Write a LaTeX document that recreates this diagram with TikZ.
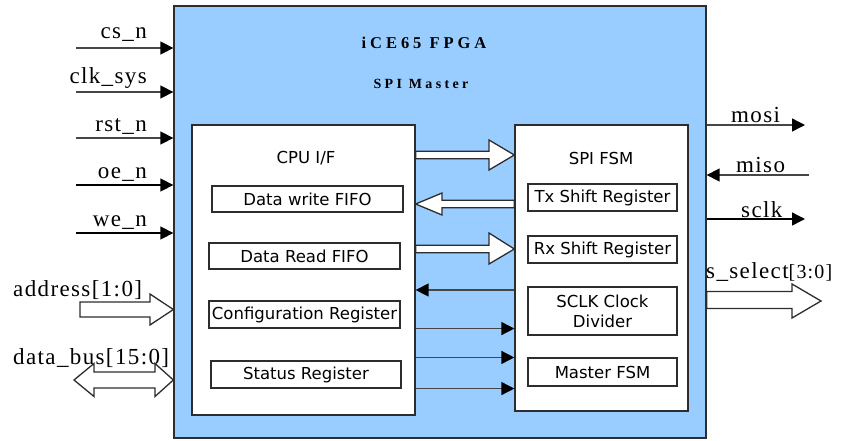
\documentclass[tikz,border=0pt]{standalone}
\usepackage{fontspec}
\setmainfont{Liberation Serif}
\newfontfamily\sigfont[LetterSpace=6]{Liberation Serif}
\newfontfamily\titlefont[LetterSpace=24]{Liberation Serif}
\newfontfamily\boxfont{DejaVu Sans}
\usetikzlibrary{arrows.meta}
\definecolor{fpgablue}{RGB}{153,204,255}
\definecolor{edge}{RGB}{45,45,45}
\definecolor{wire}{RGB}{70,70,70}
\begin{document}
\begin{tikzpicture}[x=1pt,y=-1pt,
  bigbox/.style={draw=edge, line width=1.3pt, fill=white, inner sep=0pt},
  subbox/.style={draw=edge, line width=1.1pt, fill=white, inner sep=0pt, align=center,
     font=\boxfont\fontsize{16.5}{20}\selectfont},
  boxtitle/.style={inner sep=0pt, font=\boxfont\fontsize{16.5}{20}\selectfont},
  sig/.style={draw=wire, line width=1.4pt, -{Triangle[length=13pt,width=13pt,color=black]}},
  lbl/.style={inner sep=0pt, font=\sigfont\fontsize{23}{26}\selectfont},
  hollow/.style={draw=edge, line width=1.3pt, fill=white, line join=miter},
  title/.style={inner sep=0pt}]
\useasboundingbox (0,0) rectangle (852,440);

% FPGA block
\node[draw=edge, line width=1.3pt, fill=fpgablue, minimum width=532, minimum height=432, inner sep=0pt] (fpga) at (440,222) {};
\node[title, font=\titlefont\bfseries\fontsize{16.5}{19}\selectfont] (t1) at (424,43) {iCE65 FPGA};
\node[title, font=\titlefont\bfseries\fontsize{14}{17}\selectfont] (t2) at (421,84) {SPI Master};

% CPU I/F
\node[bigbox, minimum width=223, minimum height=290] (cpu) at (303.5,270) {};
\node[boxtitle] (cputxt) at (306,158) {CPU I/F};
\node[subbox, minimum width=191, minimum height=26] (dwf) at (307.5,199) {Data write FIFO};
\node[subbox, minimum width=191, minimum height=26] (drf) at (304.5,256) {Data Read FIFO};
\node[subbox, minimum width=191, minimum height=27] (cfg) at (304.5,314.5) {Configuration Register};
\node[subbox, minimum width=190, minimum height=27] (stat) at (306,374.5) {Status Register};

% SPI FSM
\node[bigbox, minimum width=173, minimum height=286] (spi) at (601.5,268) {};
\node[boxtitle] (spitxt) at (601,158) {SPI FSM};
\node[subbox, minimum width=149, minimum height=27] (tx) at (602.5,197.5) {Tx Shift Register};
\node[subbox, minimum width=149, minimum height=27] (rx) at (602.5,249.5) {Rx Shift Register};
\node[subbox, minimum width=149, minimum height=48] (sclkdiv) at (602.5,311) {SCLK Clock\\Divider};
\node[subbox, minimum width=149, minimum height=28] (mfsm) at (602.5,372) {Master FSM};

% hollow bus arrows between CPU I/F and SPI FSM
\draw[hollow] (cpu.east |- 0,151.3) -- (489,151.3) -- (489,140) -- (spi.west |- 0,155)
  -- (489,170) -- (489,158.7) -- (cpu.east |- 0,158.7) -- cycle;
\draw[hollow] (spi.west |- 0,200.2) -- (442,200.2) -- (442,193) -- (cpu.east |- 0,204)
  -- (442,215) -- (442,207.8) -- (spi.west |- 0,207.8) -- cycle;
\draw[hollow] (cpu.east |- 0,245.3) -- (489,245.3) -- (489,233) -- (spi.west |- 0,249)
  -- (489,264) -- (489,252.7) -- (cpu.east |- 0,252.7) -- cycle;

% single-line arrows between CPU I/F and SPI FSM
\draw[sig] (spi.west |- 0,290) -- (cpu.east |- 0,290);
\draw[sig] (cpu.east |- cfg.south) -- (spi.west |- cfg.south);
\draw[sig] (cpu.east |- mfsm.north) -- (spi.west |- mfsm.north);
\draw[sig] (cpu.east |- stat.south) -- (spi.west |- stat.south);

% left inputs
\coordinate (csA) at (76,48);
\coordinate (clkA) at (76,92);
\coordinate (rstA) at (76,138);
\coordinate (oeA) at (76,185);
\coordinate (weA) at (76,233);
\draw[sig] (csA) -- (csA -| fpga.west);
\draw[sig] (clkA) -- (clkA -| fpga.west);
\draw[sig] (rstA) -- (rstA -| fpga.west);
\draw[sig, draw=black] (oeA) -- (oeA -| fpga.west);
\draw[sig, draw=black] (weA) -- (weA -| fpga.west);
\node[lbl, anchor=base east] (csL) at (147,38) {cs\_n};
\node[lbl, anchor=base east] (clkL) at (147,83) {clk\_sys};
\node[lbl, anchor=base east] (rstL) at (147,131) {rst\_n};
\node[lbl, anchor=base east] (oeL) at (147,178) {oe\_n};
\node[lbl, anchor=base east] (weL) at (147,226) {we\_n};

% address bus
\node[lbl, anchor=base west] (adrL) at (13,296) {address[1:0]};
\draw[hollow] (80,302) -- (150,302) -- (150,294) -- (fpga.west |- 0,309.5)
  -- (150,325) -- (150,317) -- (80,317) -- cycle;
% data bus
\node[lbl, anchor=base west] (datL) at (13,364) {data\_bus[15:0]};
\draw[hollow] (74,380) -- (94,363.5) -- (94,372) -- (155,372) -- (155,363.5) -- (fpga.west |- 0,380)
  -- (155,396.5) -- (155,388) -- (94,388) -- (94,396.5) -- cycle;

% right outputs
\coordinate (mosiB) at (805,125);
\coordinate (misoB) at (809,175);
\coordinate (sclkB) at (805,219);
\draw[sig] (fpga.east |- mosiB) -- (mosiB);
\draw[sig] (misoB) -- (fpga.east |- misoB);
\draw[sig, draw=black] (fpga.east |- sclkB) -- (sclkB);
\node[lbl, anchor=base west] (mosiL) at (731,122) {mosi};
\node[lbl, anchor=base west] (misoL) at (736,172) {miso};
\node[lbl, anchor=base west] (sclkL) at (741,217) {sclk};
\node[lbl, anchor=base west] (ssL) at (706,278) {s\_select{\fontsize{20}{24}\selectfont[3:0]}};
\draw[hollow] (fpga.east |- 0,291.5) -- (792,291.5) -- (792,284) -- (821,301)
  -- (792,318) -- (792,308.5) -- (fpga.east |- 0,308.5) -- cycle;
\end{tikzpicture}
\end{document}
